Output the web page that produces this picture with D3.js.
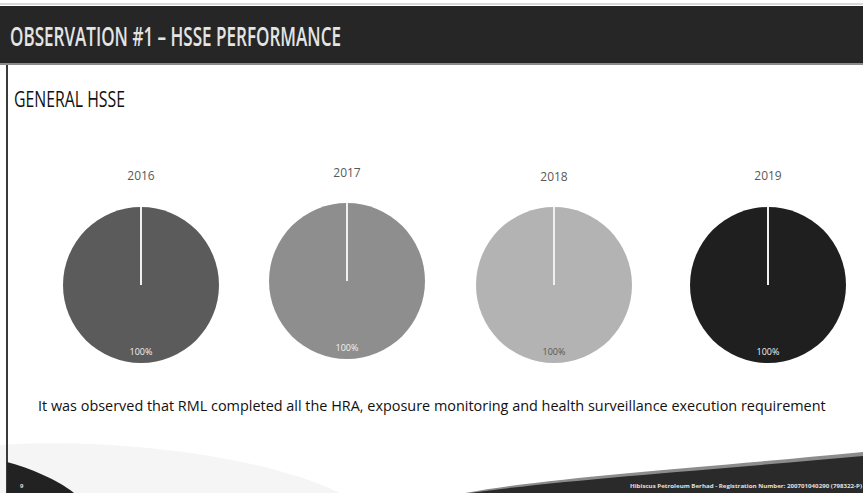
<!DOCTYPE html>
<html>
<head>
<meta charset="utf-8">
<script src="https://cdn.jsdelivr.net/npm/d3@7"></script>
<style>
  html, body { margin: 0; padding: 0; background: #fff; }
  svg { display: block; }
</style>
</head>
<body>
<svg id="slide" width="863" height="493"></svg>
<script>
// Years shown and the share of requirements completed in each year
const years = ["2016", "2017", "2018", "2019"];
const completed = [100, 100, 100, 100];
const sliceColors = ["#5b5b5b", "#8e8e8e", "#b3b3b3", "#1f1f1f"];

const title = "OBSERVATION #1 – HSSE PERFORMANCE";
const subtitle = "GENERAL HSSE";
const note = "It was observed that RML completed all the HRA, exposure monitoring and health surveillance execution requirement";
const footer = "Hibiscus Petroleum Berhad - Registration Number: 200701040290 (798322-P)";
const pageNo = "9";

const W = 863, H = 493;
const svg = d3.select("#slide");
const font = "'Open Sans', 'Noto Sans', sans-serif";

// fit a text to a target width by scaling its font size
function fitWidth(sel, target) {
  const fs = +sel.attr("font-size");
  const w = sel.node().getComputedTextLength();
  sel.attr("font-size", (fs * target / w).toFixed(2));
}

// slide background
svg.append("rect").attr("width", W).attr("height", H).attr("fill", "#ffffff");
svg.append("rect").attr("x", 0).attr("y", 3).attr("width", W).attr("height", 2).attr("fill", "#d9d9d9");

// faint grey sweep behind the footer
svg.append("path")
  .attr("d", "M0,445 C90,438 250,450 340,493 L0,493 Z")
  .attr("fill", "#f5f5f5");

// header band
svg.append("rect").attr("x", 0).attr("y", 6).attr("width", W).attr("height", 58).attr("fill", "#262626");
svg.append("rect").attr("x", 0).attr("y", 63).attr("width", W).attr("height", 2).attr("fill", "#8a8a8a");
svg.append("text")
  .attr("x", 10).attr("y", 46)
  .attr("font-family", font).attr("font-size", 27).attr("font-weight", 600)
  .attr("fill", "#e4e4e4")
  .attr("textLength", 331).attr("lengthAdjust", "spacingAndGlyphs")
  .text(title);

// left slide edge
svg.append("rect").attr("x", 6).attr("y", 65).attr("width", 2).attr("height", H - 65).attr("fill", "#3a3a3a");

svg.append("text")
  .attr("x", 14).attr("y", 107)
  .attr("font-family", font).attr("font-size", 22)
  .attr("fill", "#111")
  .attr("textLength", 111).attr("lengthAdjust", "spacingAndGlyphs")
  .text(subtitle);

// one pie per year
const centers = [[141, 285], [347, 281], [554, 285], [768, 285]];
const titleY = [180, 177, 181, 180];
const labelY = [355, 351, 355, 355];
const R = 78;

const pie = d3.pie().sort(null).value(d => d);
const arc = d3.arc().innerRadius(0).outerRadius(R);
const pct = d3.format(".0%");

years.forEach((yr, i) => {
  const g = svg.append("g").attr("transform", `translate(${centers[i][0]},${centers[i][1]})`);
  const slices = pie([completed[i]]);
  g.selectAll("path.slice").data(slices).join("path")
    .attr("class", "slice")
    .attr("d", arc)
    .attr("fill", sliceColors[i]);
  // slice boundary from the centre to the rim
  slices.forEach(s => {
    g.append("line")
      .attr("x1", 0).attr("y1", 0)
      .attr("x2", R * Math.sin(s.startAngle)).attr("y2", -R * Math.cos(s.startAngle))
      .attr("stroke", "#f0f0f0").attr("stroke-width", 2);
  });
  g.append("text")
    .attr("x", 0).attr("y", labelY[i] - centers[i][1])
    .attr("text-anchor", "middle")
    .attr("font-family", font).attr("font-size", 9)
    .attr("fill", i === 2 ? "#555" : "#f2f2f2")
    .text(pct(completed[i] / 100));
  svg.append("text")
    .attr("x", centers[i][0]).attr("y", titleY[i])
    .attr("text-anchor", "middle")
    .attr("font-family", font).attr("font-size", 12)
    .attr("fill", "#595959")
    .text(yr);
});

const noteText = svg.append("text")
  .attr("x", 38).attr("y", 411)
  .attr("font-family", font).attr("font-size", 16).attr("font-weight", 500)
  .attr("fill", "#111")
  .text(note);
fitWidth(noteText, 788);

// footer sweeps
svg.append("path")
  .attr("d", "M7,462 C30,468 58,480 74,493 L7,493 Z")
  .attr("fill", "#222");
svg.append("path")
  .attr("d", "M465,493 C560,476 700,468 863,452 L863,493 Z")
  .attr("fill", "#8c8c8c");
svg.append("path")
  .attr("d", "M470,493 C570,479 710,470 863,456 L863,493 Z")
  .attr("fill", "#2a2a2a");

svg.append("text")
  .attr("x", 20).attr("y", 488)
  .attr("font-family", font).attr("font-size", 6).attr("font-weight", 700)
  .attr("fill", "#dddddd")
  .text(pageNo);
svg.append("text")
  .attr("x", 862).attr("y", 488)
  .attr("text-anchor", "end")
  .attr("font-family", font).attr("font-size", 6).attr("font-weight", 700)
  .attr("fill", "#e0e0e0")
  .attr("textLength", 232).attr("lengthAdjust", "spacingAndGlyphs")
  .text(footer);
</script>
</body>
</html>
